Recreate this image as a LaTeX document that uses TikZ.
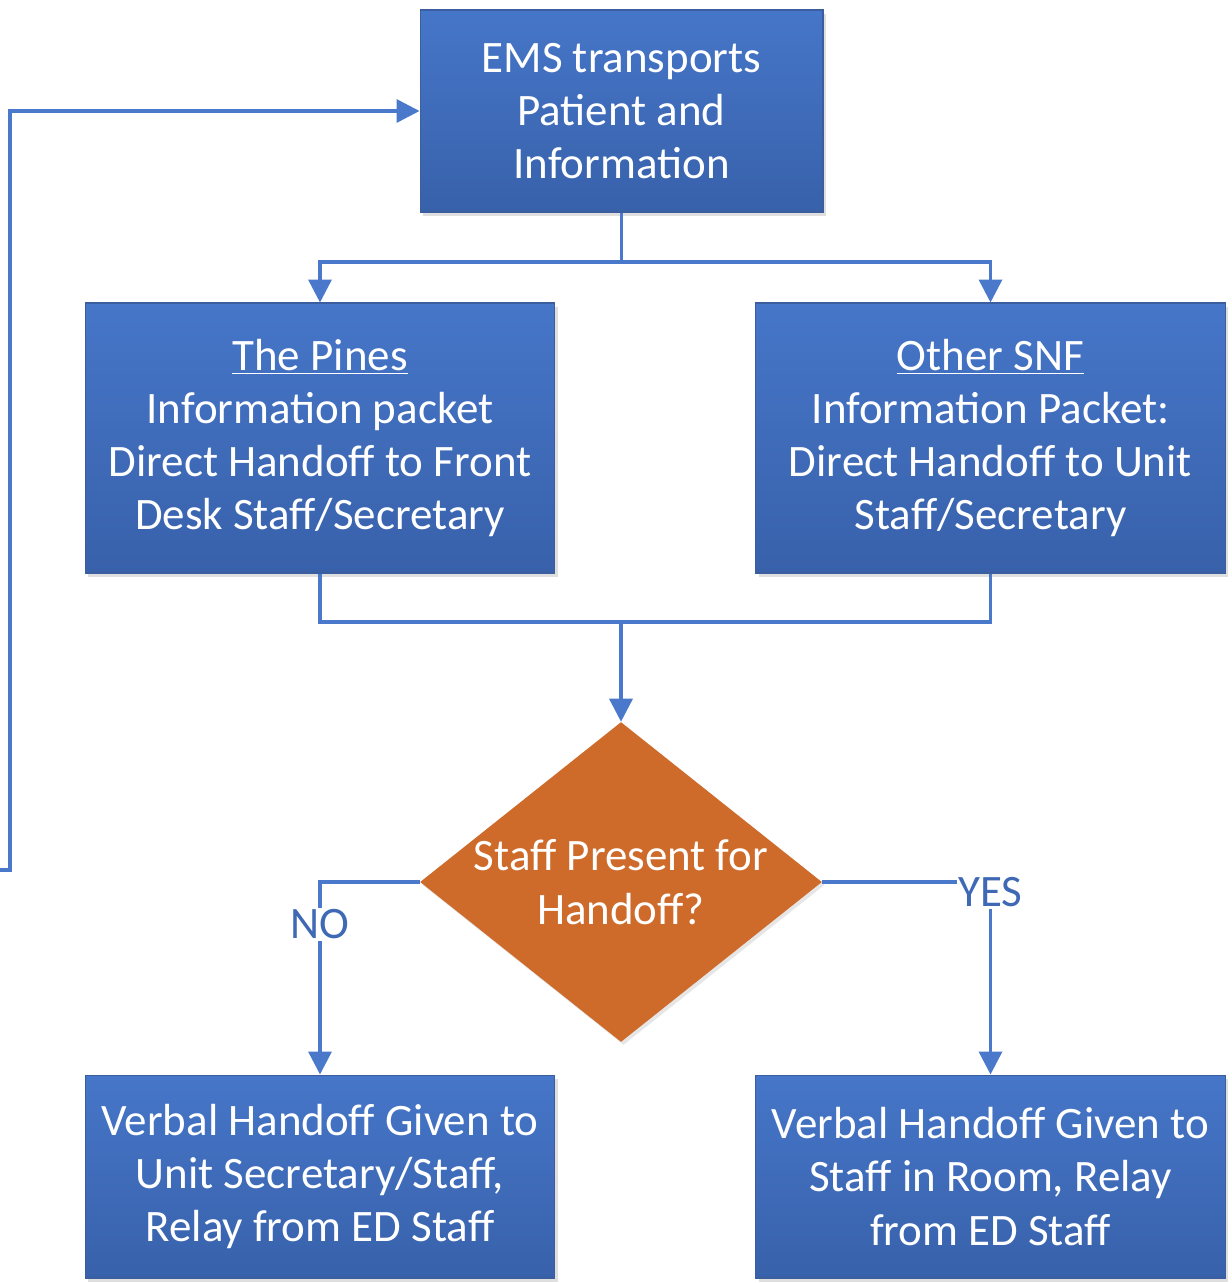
\documentclass[tikz,border=0pt]{standalone}
\usepackage{fontspec}
\setmainfont{Carlito}
\usepackage{xcolor}
\usetikzlibrary{arrows.meta, positioning, shapes.geometric, shadows}

\definecolor{boxtop}{HTML}{4676C9}
\definecolor{boxbot}{HTML}{3861AA}
\definecolor{boxline}{HTML}{3A5E9E}
\definecolor{decfill}{HTML}{CE6B2A}
\definecolor{flowline}{HTML}{4A78CA}
\definecolor{labelblue}{HTML}{3F69B5}

\begin{document}
\begin{tikzpicture}[
    x=0.02cm, y=-0.02cm,
    font=\fontsize{25.6}{30.3}\selectfont,
    box/.style={
      draw=boxline,
      line width=0.6pt,
      top color=boxtop,
      bottom color=boxbot,
      text=white,
      align=center,
      inner sep=2pt,
      drop shadow={opacity=0.25, shadow xshift=0.06cm, shadow yshift=-0.08cm}
    },
    wide/.style={
      box,
      minimum width=9.4cm
    },
    decision/.style={
      diamond,
      fill=decfill,
      text=white,
      align=center,
      aspect=1.256,
      minimum width=8.04cm,
      minimum height=6.4cm,
      inner sep=0pt,
      drop shadow={opacity=0.2, shadow xshift=0.05cm, shadow yshift=-0.06cm}
    },
    answer/.style={
      fill=white,
      text=labelblue,
      inner sep=1pt
    },
    arrow/.style={
      -{Triangle[length=0.46cm, width=0.46cm]},
      line width=2pt,
      draw=flowline
    },
    link/.style={
      line width=2pt,
      draw=flowline
    }
  ]

    \useasboundingbox (0,0) rectangle (1231,1283);

    % Boxes
    \node[box, minimum width=8.06cm, minimum height=4.04cm] (ems) at (621.5,111)
      {EMS transports\\Patient and\\Information};
    \node[wide, minimum height=5.4cm] (pines) at (320,438)
      {\underline{The Pines}\\Information packet\\Direct Handoff to Front\\Desk Staff/Secretary};
    \node[wide, minimum height=5.4cm] (snf) at (990.5,438)
      {\underline{Other SNF}\\Information Packet:\\Direct Handoff to Unit\\Staff/Secretary};
    \node[decision] (present) at (621,882) {Staff Present for\\Handoff?};
    \node[wide, minimum height=4.06cm] (verbalno) at (320,1176.5)
      {Verbal Handoff Given to\\Unit Secretary/Staff,\\Relay from ED Staff};
    \node[wide, minimum height=4.06cm] (verbalyes) at (990.5,1176.5)
      {Verbal Handoff Given to\\Staff in Room, Relay\\from ED Staff};

    % Split and merge points
    \coordinate (split) at (621.5,262);
    \coordinate (merge) at (621,622);
    \coordinate (loopend) at (0,870);

    % Arrows
    \draw[link] (ems.south) -- (split);
    \draw[arrow] (split) -| (pines.north);
    \draw[arrow] (split) -| (snf.north);

    \draw[link] (pines.south) |- (merge);
    \draw[link] (snf.south) |- (merge);
    \draw[arrow] (merge) -- (present.north);

    \draw[arrow] (present.west) -| node[answer, pos=0.61] {NO} (verbalno.north);
    \draw[arrow] (present.east) -| node[answer, pos=0.5, yshift=-0.2cm] {YES} (verbalyes.north);

    % Loop back to the top
    \draw[arrow] (loopend) -- (10,870) |- (ems.west);

  \end{tikzpicture}
\end{document}
